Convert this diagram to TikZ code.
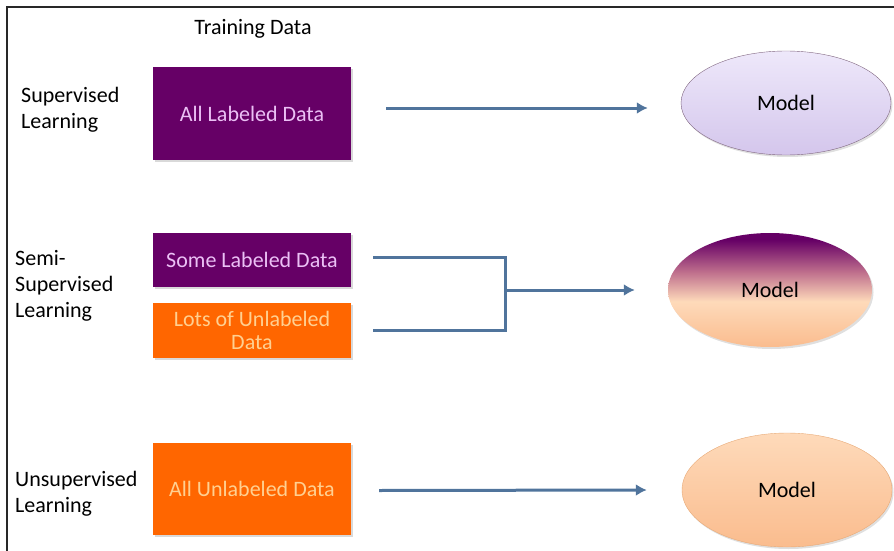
\documentclass[tikz,border=0pt]{standalone}
\usepackage{fontspec}
\setmainfont{Carlito}
\usetikzlibrary{arrows.meta,shapes.geometric,shadows}

% colours
\definecolor{labpurple}{RGB}{102,0,102}
\definecolor{labtext}{RGB}{235,192,245}
\definecolor{unlorange}{RGB}{255,102,0}
\definecolor{unltext}{RGB}{255,208,145}
\definecolor{flowblue}{RGB}{80,116,156}
\definecolor{lavtop}{RGB}{238,232,250}
\definecolor{lavbot}{RGB}{212,198,236}
\definecolor{peachtop}{RGB}{254,218,186}
\definecolor{peachbot}{RGB}{250,188,142}
\definecolor{mauve}{RGB}{190,110,140}
\definecolor{framegray}{RGB}{40,40,40}

% purple on top, peach below, for the semi-supervised model
\pgfdeclareverticalshading{semishade}{100bp}{color(0bp)=(peachbot); color(25bp)=(peachbot);
  color(45bp)=(peachtop); color(58bp)=(mauve); color(72bp)=(labpurple); color(100bp)=(labpurple)}

\tikzset{
  databox/.style={rectangle, minimum width=198pt, inner sep=2pt, align=center,
    drop shadow={shadow xshift=1.5pt, shadow yshift=-2pt, opacity=0.3}},
  model/.style={ellipse, minimum width=210pt, minimum height=108pt, inner sep=0pt,
    drop shadow={shadow xshift=1.5pt, shadow yshift=-2pt, opacity=0.25}},
  rowlabel/.style={anchor=west, inner sep=0pt, align=left},
  flow/.style={draw=flowblue, line width=3pt, -{Latex[length=11pt,width=12pt]}},
  flowline/.style={draw=flowblue, line width=3pt}
}

\begin{document}
\begin{tikzpicture}[x=1pt, y=-1pt, font=\fontsize{22}{26}\selectfont]

    % page size of the slide
    \useasboundingbox (0,0) rectangle (894,551);

    % frame, only left and top edges show
    \draw[framegray, line width=1.6pt] (7,551) -- (7,7) -- (894,7);

    % column heading
    \node (head) at (253,29) {Training Data};

    % row labels
    \node[rowlabel] (suplab) at (21,110) {Supervised\\Learning};
    \node[rowlabel] (semilab) at (15,286) {Semi-\\Supervised\\Learning};
    \node[rowlabel] (unslab) at (15,494) {Unsupervised\\Learning};

    % training data boxes
    \node[databox, fill=labpurple, text=labtext, minimum height=93pt] (all) at (252,113.5) {All Labeled Data};
    \node[databox, fill=labpurple, text=labtext, minimum height=54pt] (some) at (252,260) {Some Labeled Data};
    \node[databox, fill=unlorange, text=unltext, minimum height=55pt] (lots) at (252,330.5) {Lots of Unlabeled\\[-3pt]Data};
    \node[databox, fill=unlorange, text=unltext, minimum height=92pt] (none) at (252,489) {All Unlabeled Data};

    % models
    \node[model, top color=lavtop, bottom color=lavbot, draw=gray!80!violet, minimum height=104pt] (supmod) at (786,103) {Model};
    \node[model, shading=semishade, minimum width=204pt, minimum height=114pt] (semimod) at (770,290) {Model};
    \node[model, top color=peachtop, bottom color=peachbot, draw=peachbot!70!brown, minimum height=114pt] (unsmod) at (787,490) {Model};

    % joint point of the two semi-supervised inputs
    \coordinate (join) at (505,290);

    % arrows
    \draw[flow] ([xshift=35pt,yshift=5.5pt]all.east) -- ([xshift=-33pt,yshift=-5pt]supmod.west);
    \draw[flowline] ([xshift=22pt,yshift=3pt]some.east) -| (join) |- ([xshift=22pt]lots.east);
    \draw[flow] (join) -- ([xshift=-33pt]semimod.west);
    \draw[flow] ([xshift=28pt,yshift=-1.5pt]none.east) -- ([xshift=-35pt]unsmod.west);

\end{tikzpicture}
\end{document}
